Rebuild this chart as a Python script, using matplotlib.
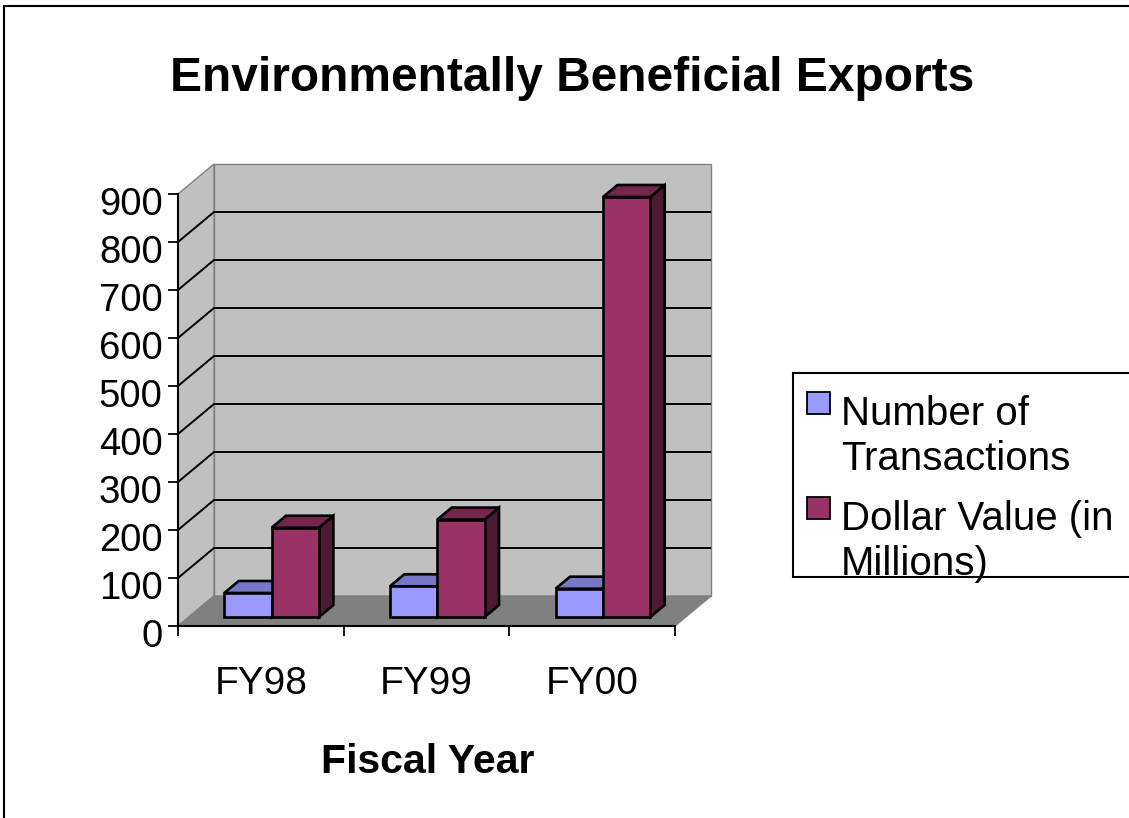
import numpy as np
import matplotlib.pyplot as plt
import matplotlib.transforms as mtransforms
from matplotlib.patches import Polygon, Rectangle

# data
years = ["FY98", "FY99", "FY00"]
transactions = [50, 64, 59]
dollars = [186, 203, 875]
series_names = ["Number of\nTransactions", "Dollar Value (in\nMillions)"]
yticks = list(range(0, 1000, 100))

plt.rcParams['font.family'] = ['Liberation Sans', 'DejaVu Sans']

W, H = 1129, 818
fig = plt.figure(figsize=(W / 100, H / 100), dpi=100)


def px(x, y):
    # pixel position -> figure fraction
    return (x / W, 1 - y / H)


# front plane of the 3d box, in pixels
x0, x1 = 178, 675
y0, y1 = 626, 194
ax = fig.add_axes([x0 / W, 1 - y0 / H, (x1 - x0) / W, (y0 - y1) / H])
ax.set_xlim(0, 3)
ax.set_ylim(0, 900)
ax.patch.set_visible(False)

# depth offset (oblique projection) in data units
ddx = 36 / (x1 - x0) * 3
ddy = 30 / (y0 - y1) * 900
top = yticks[-1]
n = len(years)

wall = '#C0C0C0'
edge = '#808080'
back = Polygon([(ddx, ddy), (n + ddx, ddy), (n + ddx, top + ddy), (ddx, top + ddy)],
               closed=True, fc=wall, ec=edge, lw=1, clip_on=False, zorder=1)
side = Polygon([(0, 0), (ddx, ddy), (ddx, top + ddy), (0, top)],
               closed=True, fc=wall, ec=edge, lw=1, clip_on=False, zorder=1)
floor = Polygon([(0, 0), (n, 0), (n + ddx, ddy), (ddx, ddy)],
                closed=True, fc='#808080', ec='#808080', lw=1, clip_on=False, zorder=1)
for p in (back, side, floor):
    ax.add_patch(p)

for v in yticks[1:-1]:
    ax.plot([0, ddx, n + ddx], [v, v + ddy, v + ddy], color='k', lw=1.4,
            clip_on=False, zorder=2, solid_capstyle='butt')


def bar3d(xl, w, h, front_c, top_c, side_c, z0=0.3, z1=0.7):
    fx, fy = z0 * ddx, z0 * ddy
    bx, by = z1 * ddx, z1 * ddy
    faces = [
        ([(xl + w + fx, fy), (xl + w + bx, by), (xl + w + bx, h + by), (xl + w + fx, h + fy)], side_c),
        ([(xl + fx, h + fy), (xl + w + fx, h + fy), (xl + w + bx, h + by), (xl + bx, h + by)], top_c),
        ([(xl + fx, fy), (xl + w + fx, fy), (xl + w + fx, h + fy), (xl + fx, h + fy)], front_c),
    ]
    for pts, c in faces:
        ax.add_patch(Polygon(pts, closed=True, fc=c, ec='k', lw=1.9,
                             joinstyle='miter', clip_on=False, zorder=3))


bw = 1 / 3.5
for i in range(n):
    bar3d(i + 0.5 - bw, bw, transactions[i], '#9999FF', '#7777C8', '#5A5A99')
    bar3d(i + 0.5, bw, dollars[i], '#993366', '#74264D', '#4D1A33')

# axes, ticks, labels
for s in ('top', 'right'):
    ax.spines[s].set_visible(False)
for s in ('left', 'bottom'):
    ax.spines[s].set_linewidth(1.5)
    ax.spines[s].set_zorder(4)

ax.set_yticks(yticks)
ax.tick_params(axis='y', direction='out', length=7, width=1.3, pad=4, labelsize=27.5)
off = mtransforms.ScaledTranslation(0, -7 / 100, fig.dpi_scale_trans)
for lbl in ax.get_yticklabels():
    lbl.set_transform(lbl.get_transform() + off)

ax.set_xticks(range(n + 1))
ax.set_xticklabels([])
ax.tick_params(axis='x', which='major', direction='out', length=7, width=1.3)
ax.set_xticks(np.arange(n) + 0.5, minor=True)
ax.set_xticklabels(years, minor=True)
ax.tick_params(axis='x', which='minor', length=0, pad=29, labelsize=28)

fig.text(*px(572, 91), "Environmentally Beneficial Exports", ha='center', va='baseline',
         fontsize=34.5, fontweight='bold')
fig.text(*px(428, 773), "Fiscal Year", ha='center', va='baseline',
         fontsize=29.5, fontweight='bold')

# legend drawn by hand (swatch sits on first line of each entry)
fig.add_artist(Rectangle(px(793, 577), (1180 - 793) / W, (577 - 373) / H,
                         transform=fig.transFigure, fc='white', ec='k', lw=1.5))
swatches = ['#9999FF', '#993366']
sw_top = [392, 497]
base = [425, 530]
for c, t, b, name in zip(swatches, sw_top, base, series_names):
    fig.add_artist(Rectangle(px(807, t + 22), 23 / W, 22 / H, transform=fig.transFigure,
                             fc=c, ec='k', lw=1.3))
    lines = name.split("\n")
    for k, line in enumerate(lines):
        fig.text(*px(841, b + 45 * k), line, ha='left', va='baseline', fontsize=29)

# outer chart border
fig.add_artist(Rectangle(px(4, 860), 1.3, (860 - 6) / H, transform=fig.transFigure,
                         fill=False, ec='k', lw=1.5))

fig.savefig("out.png", dpi=100)
